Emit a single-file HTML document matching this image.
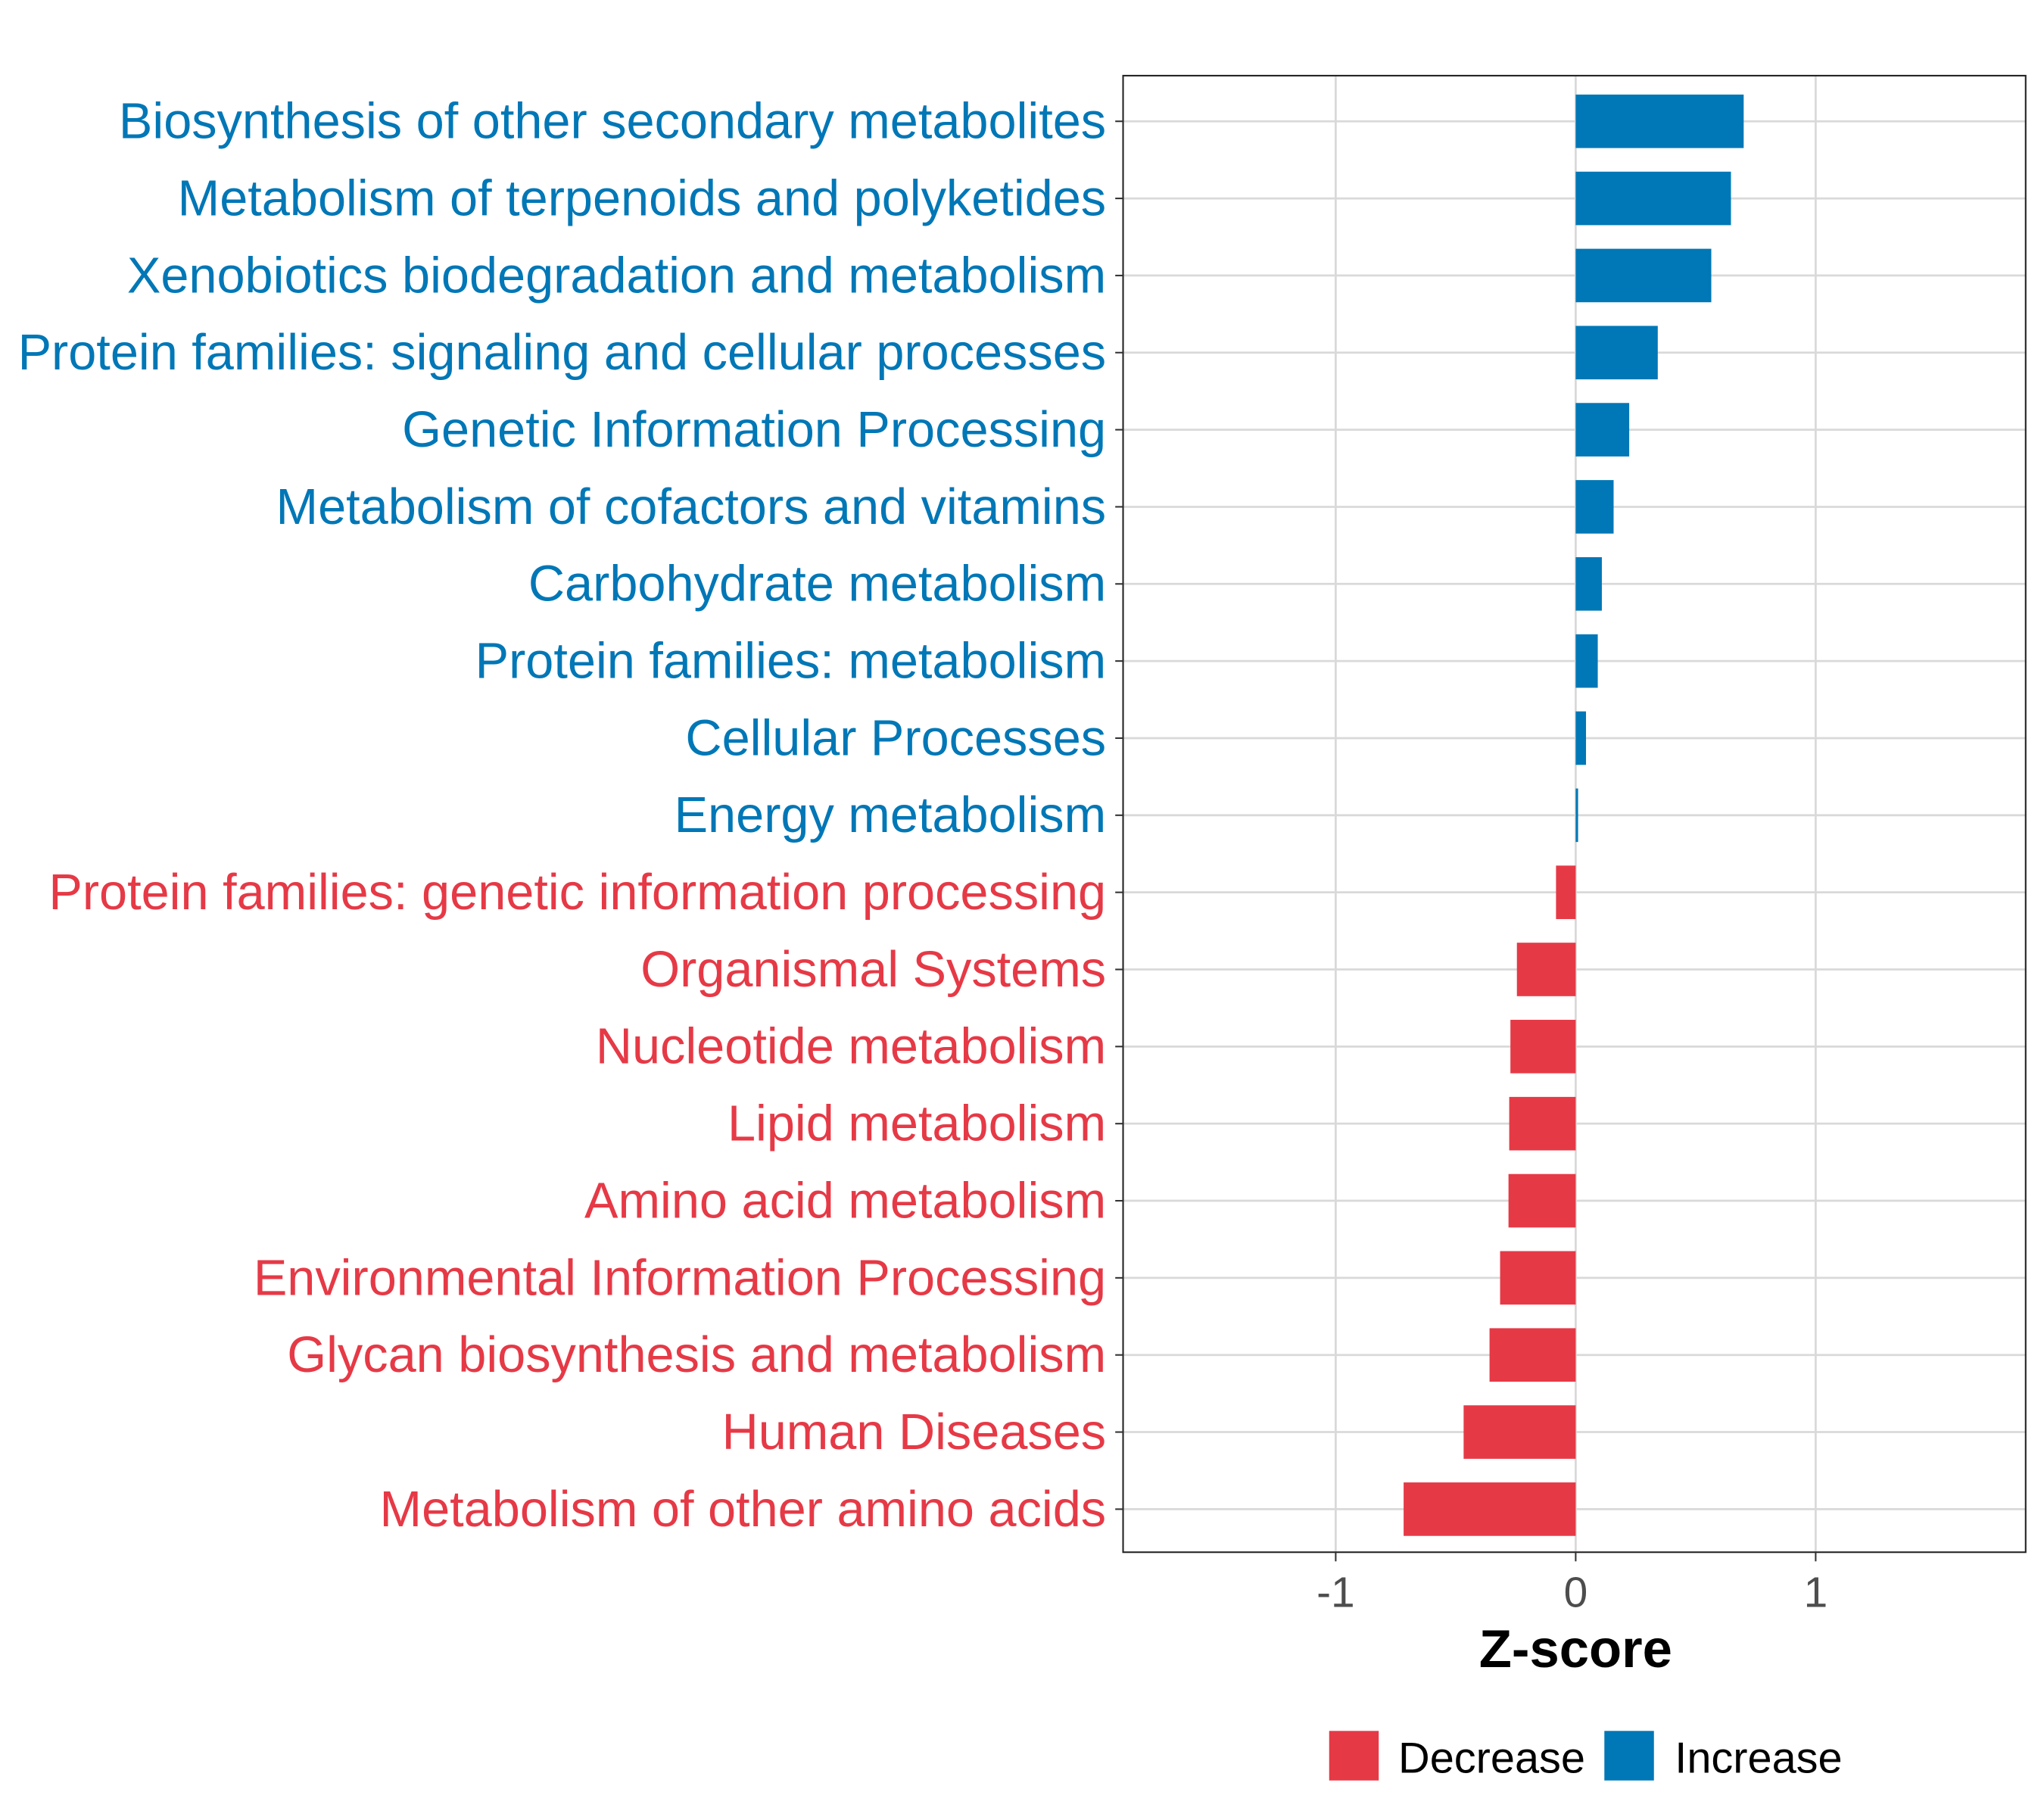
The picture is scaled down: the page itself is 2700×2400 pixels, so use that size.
<!DOCTYPE html>
<html><head><meta charset="utf-8"><style>
html,body{margin:0;padding:0;background:#fff;}
svg{display:block;font-family:"Liberation Sans",sans-serif;}
</style></head><body>
<svg id="chart" width="2700" height="2400" viewBox="0 0 1567 1393" xmlns="http://www.w3.org/2000/svg">
<rect x="0" y="0" width="1567" height="1393" fill="#fff"/>
<g id="grid"></g>
<g id="bars"></g>
<rect x="861" y="58" width="692" height="1132" fill="none" stroke="#222" stroke-width="1.2"/>
<g id="ylabels"></g>
<g id="xticks"></g>
<text x="1208" y="1278" text-anchor="middle" font-size="41" font-weight="bold" fill="#000">Z-score</text>
<g>
<g>
<rect x="1019" y="1327" width="38" height="38" fill="#e63946"/>
<text x="1072" y="1359" font-size="33.5" fill="#000">Decrease</text></g>
<g>
<rect x="1230" y="1327" width="38" height="38" fill="#0077b6"/>
<text x="1284" y="1359" font-size="33.5" fill="#000">Increase</text></g>
</g>
</svg>
<script>
const categories=["Biosynthesis of other secondary metabolites","Metabolism of terpenoids and polyketides","Xenobiotics biodegradation and metabolism","Protein families: signaling and cellular processes","Genetic Information Processing","Metabolism of cofactors and vitamins","Carbohydrate metabolism","Protein families: metabolism","Cellular Processes","Energy metabolism","Protein families: genetic information processing","Organismal Systems","Nucleotide metabolism","Lipid metabolism","Amino acid metabolism","Environmental Information Processing","Glycan biosynthesis and metabolism","Human Diseases","Metabolism of other amino acids"];
const zscores=[0.70,0.647,0.565,0.342,0.223,0.158,0.109,0.092,0.043,0.01,-0.082,-0.245,-0.272,-0.277,-0.28,-0.315,-0.359,-0.467,-0.717];
const xTicks=[-1,0,1];
const xTickLabels=["-1","0","1"];
const NS="http://www.w3.org/2000/svg";
const px0=861,px1=1553,dmin=-1.886,dmax=1.875;
const y0=93,step=(1157-93)/18,bh=41;
function xs(v){return px0+(v-dmin)/(dmax-dmin)*(px1-px0);}
function ys(i){return y0+i*step;}
function mk(t,a,p){const e=document.createElementNS(NS,t);for(const k in a)e.setAttribute(k,a[k]);p.appendChild(e);return e;}
const grid=document.getElementById('grid'),bars=document.getElementById('bars'),yl=document.getElementById('ylabels'),xt=document.getElementById('xticks');
xTicks.forEach((v,i)=>{
 const g=mk('line',{x1:xs(v),x2:xs(v),y1:58,y2:1190,stroke:'#d9d9d9','stroke-width':1.6},grid);
 
 
 const t=mk('line',{x1:xs(v),x2:xs(v),y1:1190,y2:1197,stroke:'#333','stroke-width':1.2},xt);
 
 
 const l=mk('text',{x:xs(v),y:1232,'text-anchor':'middle','font-size':33,fill:'#4d4d4d'},xt);
 l.textContent=xTickLabels[i];
 
 
});
categories.forEach((c,i)=>{
 const y=ys(i),v=zscores[i],col=v>=0?'#0077b6':'#e63946';
 const g=mk('line',{x1:px0,x2:px1,y1:y,y2:y,stroke:'#d9d9d9','stroke-width':1.6},grid);
 
 
 const a=Math.min(xs(0),xs(v)),w=Math.abs(xs(v)-xs(0));
 const r=mk('rect',{x:a,y:y-bh/2,width:Math.max(w,1),height:bh,fill:col},bars);
 
 
 const t=mk('line',{x1:855,x2:861,y1:y,y2:y,stroke:'#333','stroke-width':1.2},yl);
 
 
 const l=mk('text',{x:848,y:y+13,'text-anchor':'end','font-size':38.7,fill:col},yl);
 l.textContent=c;
 
 
});
</script>
</body></html>
